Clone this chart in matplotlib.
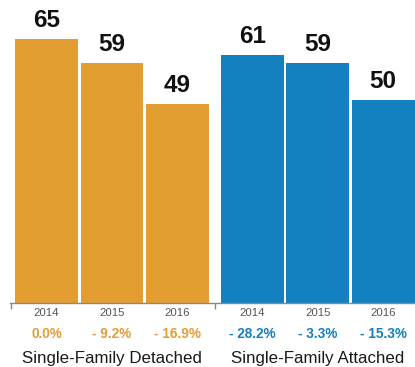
import matplotlib.pyplot as plt
from matplotlib.transforms import blended_transform_factory

plt.rcParams["font.family"] = ["Liberation Sans", "DejaVu Sans"]

years = ["2014", "2015", "2016"]
groups = ["Single-Family Detached", "Single-Family Attached"]
detached = [65, 59, 49]
attached = [61, 59, 50]
detached_chg = ["0.0%", "- 9.2%", "- 16.9%"]
attached_chg = ["- 28.2%", "- 3.3%", "- 15.3%"]

ORANGE = "#E29E30"
BLUE = "#1380C0"
GROUP_OFFSET = 3.14
BAR_W = 0.96

W, H = 415, 367
fig = plt.figure(figsize=(W / 100, H / 100), dpi=100)
ax = fig.add_axes([10 / W, 64 / H, 405 / W, 303 / H])

series = [
    (detached, detached_chg, ORANGE, 0.0),
    (attached, attached_chg, BLUE, GROUP_OFFSET),
]

trans = blended_transform_factory(ax.transData, fig.transFigure)

for gi, (vals, chg, color, off) in enumerate(series):
    xs = [off + i for i in range(len(vals))]
    ax.bar(xs, vals, width=BAR_W, color=color, linewidth=0)
    for x, v, c, yr in zip(xs, vals, chg, years):
        ax.annotate(str(v), (x, v), xytext=(0, 8.6), textcoords="offset points",
                    ha="center", va="baseline", fontsize=17.5, fontweight="bold",
                    color="#111111")
        ax.text(x, 1 - 316 / H, yr, transform=trans, ha="center", va="baseline",
                fontsize=8.2, color="#555555")
        ax.text(x, 1 - 338 / H, c, transform=trans, ha="center", va="baseline",
                fontsize=9.8, fontweight="bold", color=color)
    ax.text(off + 1, 1 - 362.5 / H, groups[gi], transform=trans, ha="center",
            va="baseline", fontsize=12.2, color="#1a1a1a")

ax.set_xlim(-0.557, 5.626)
ax.set_ylim(0, 74.6)
for s in ["top", "right", "left"]:
    ax.spines[s].set_visible(False)
ax.spines["bottom"].set_color("#888888")
ax.spines["bottom"].set_linewidth(1)
ax.set_xticks([-0.557 + 0.01, 2.572])
ax.set_xticklabels([])
ax.tick_params(axis="x", direction="out", length=4, color="#888888", width=1)
ax.set_yticks([])

fig.savefig("out.png", dpi=100)
